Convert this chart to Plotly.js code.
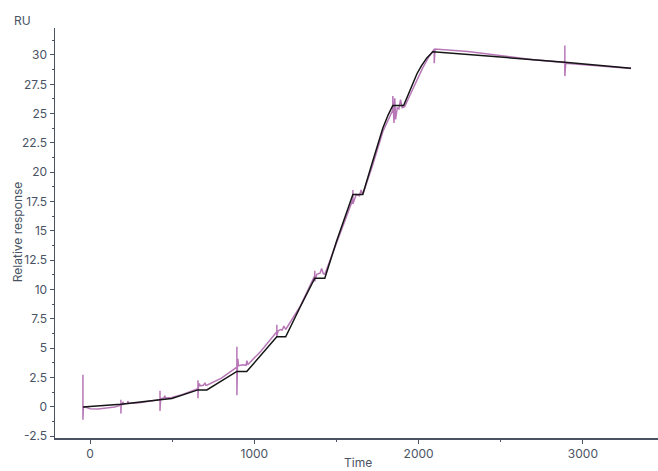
<!DOCTYPE html>
<html>
<head>
<meta charset="utf-8">
<script src="https://cdn.plot.ly/plotly-3.0.1.min.js"></script>
<style>
  html, body { margin: 0; padding: 0; background: #ffffff; }
  #chart { width: 658px; height: 471px; }
</style>
</head>
<body>
<div id="chart"></div>
<script>
// Measured sensorgram (time in s, response in RU), including injection spikes
const measuredTime = [
  -43, -43, -43, -40, -20, 0, 50, 100, 150, 188, 188, 188, 190, 200, 200, 205, 230, 230, 235, 300,
  426, 426, 426, 430, 450, 455, 460, 498, 560, 657, 657, 657, 660, 665, 670, 690, 700, 705, 711,
  800, 894, 894, 894, 897, 900, 903, 930, 950, 955, 960, 1040, 1137, 1137, 1137, 1145, 1160, 1170,
  1180, 1191, 1280, 1368, 1368, 1368, 1380, 1400, 1410, 1420, 1429, 1500, 1600, 1600, 1600, 1620,
  1640, 1650, 1660, 1720, 1783, 1843, 1843, 1850, 1855, 1860, 1870, 1880, 1890, 1900, 1915, 1945,
  1975, 2025, 2060, 2095, 2095, 2100, 2300, 2500, 2700, 2890, 2890, 2890, 2895, 3100, 3293
];
const measuredResponse = [
  0.0, 2.74, -1.1, 0.0, -0.05, -0.15, -0.18, -0.12, 0.0, 0.15, 0.6, -0.57, 0.2, 0.2, 0.45, 0.25, 0.3, 0.5, 0.3, 0.35,
  0.62, 1.37, -0.34, 0.7, 0.75, 0.95, 0.75, 0.8, 1.05, 1.55, 2.28, 0.74, 1.75, 2.0, 1.8, 1.85, 2.05, 1.85, 1.85,
  2.45, 3.4, 5.13, 1.0, 3.3, 4.1, 3.5, 3.6, 3.55, 3.95, 3.6, 4.75, 6.4, 7.0, 6.0, 6.5, 6.6, 6.55,
  6.9, 6.6, 8.6, 11.2, 11.6, 10.7, 11.3, 11.4, 11.8, 11.35, 11.3, 14.0, 17.7, 18.5, 17.3, 18.1,
  18.0, 18.5, 18.1, 20.6, 23.5, 25.3, 26.5, 24.2, 26.3, 24.5, 25.5, 25.4, 26.2, 25.5, 25.6, 26.5,
  27.4, 28.9, 29.8, 30.5, 29.3, 30.5, 30.3, 29.95, 29.6, 29.35, 30.8, 28.2, 29.3, 29.1, 28.85
];

// Fitted kinetic model curve
const fitTime = [
  -43, 188, 426, 498, 657, 711, 894, 954, 1137, 1191, 1277, 1368, 1429, 1500, 1600, 1660,
  1722, 1783, 1815, 1843, 1909, 1940, 1965, 1990, 2016, 2050, 2087, 2500, 2890, 3293
];
const fitResponse = [
  0.0, 0.23, 0.6, 0.71, 1.45, 1.45, 3.02, 3.02, 5.98, 5.98, 8.45, 10.97, 10.97, 14.1, 18.1, 18.1,
  21.0, 23.8, 24.9, 25.7, 25.7, 26.8, 27.6, 28.4, 29.05, 29.75, 30.28, 29.85, 29.38, 28.86
];

// Axis ticks
const xTickVals = [0, 1000, 2000, 3000];
const xTickText = ['0', '1000', '2000', '3000'];
const yTickVals = [-2.5, 0, 2.5, 5, 7.5, 10, 12.5, 15, 17.5, 20, 22.5, 25, 27.5, 30];
const yTickText = ['-2.5', '0', '2.5', '5', '7.5', '10', '12.5', '15', '17.5', '20', '22.5', '25', '27.5', '30'];

const axisColor = '#4a5363';
const textColor = '#4a5363';
const fontFamily = 'Inter, "Noto Sans", sans-serif';
const labelFont = { family: fontFamily, size: 12, color: textColor };

const traces = [
  {
    x: measuredTime,
    y: measuredResponse,
    type: 'scatter',
    mode: 'lines',
    line: { color: 'rgba(170, 95, 170, 0.85)', width: 1.5 },
    hoverinfo: 'skip'
  },
  {
    x: fitTime,
    y: fitResponse,
    type: 'scatter',
    mode: 'lines',
    line: { color: '#151515', width: 1.5 },
    hoverinfo: 'skip'
  }
];

const layout = {
  width: 658,
  height: 471,
  margin: { l: 55, r: 0, t: 28, b: 33 },
  paper_bgcolor: '#ffffff',
  plot_bgcolor: '#ffffff',
  showlegend: false,
  font: labelFont,
  xaxis: {
    range: [-213, 3457],
    showgrid: false,
    zeroline: false,
    showline: true,
    linecolor: axisColor,
    linewidth: 1.5,
    ticks: 'outside',
    ticklen: 4,
    tickwidth: 1,
    tickcolor: axisColor,
    tickvals: xTickVals,
    ticktext: xTickText,
    tickfont: labelFont,
    minor: { tickvals: [500, 1500, 2500], ticks: 'outside', ticklen: 2, tickcolor: axisColor, showgrid: false }
  },
  yaxis: {
    range: [-2.65, 32.3],
    showgrid: false,
    zeroline: false,
    showline: true,
    linecolor: axisColor,
    linewidth: 1.5,
    ticks: 'outside',
    ticklen: 4,
    tickwidth: 1,
    tickcolor: axisColor,
    tickvals: yTickVals,
    ticktext: yTickText,
    tickfont: labelFont,
    minor: { dtick: 2.5, tick0: 1.25, ticks: 'outside', ticklen: 2, tickcolor: axisColor, showgrid: false }
  },
  annotations: [
    {
      // unit label above the value axis
      text: 'RU',
      xref: 'paper', yref: 'paper',
      x: -0.0705, y: 1.0195,
      xanchor: 'left', yanchor: 'middle',
      showarrow: false,
      font: labelFont
    },
    {
      // value axis title
      text: 'Relative response',
      xref: 'paper', yref: 'paper',
      x: -0.063, y: 0.502,
      xanchor: 'center', yanchor: 'middle',
      textangle: -90,
      showarrow: false,
      font: labelFont
    },
    {
      // time axis title, sitting at the bottom edge
      text: 'Time',
      xref: 'paper', yref: 'paper',
      x: 0.5025, y: -0.06,
      xanchor: 'center', yanchor: 'middle',
      showarrow: false,
      font: labelFont
    }
  ]
};

Plotly.newPlot('chart', traces, layout, { staticPlot: true, displayModeBar: false });
</script>
</body>
</html>
